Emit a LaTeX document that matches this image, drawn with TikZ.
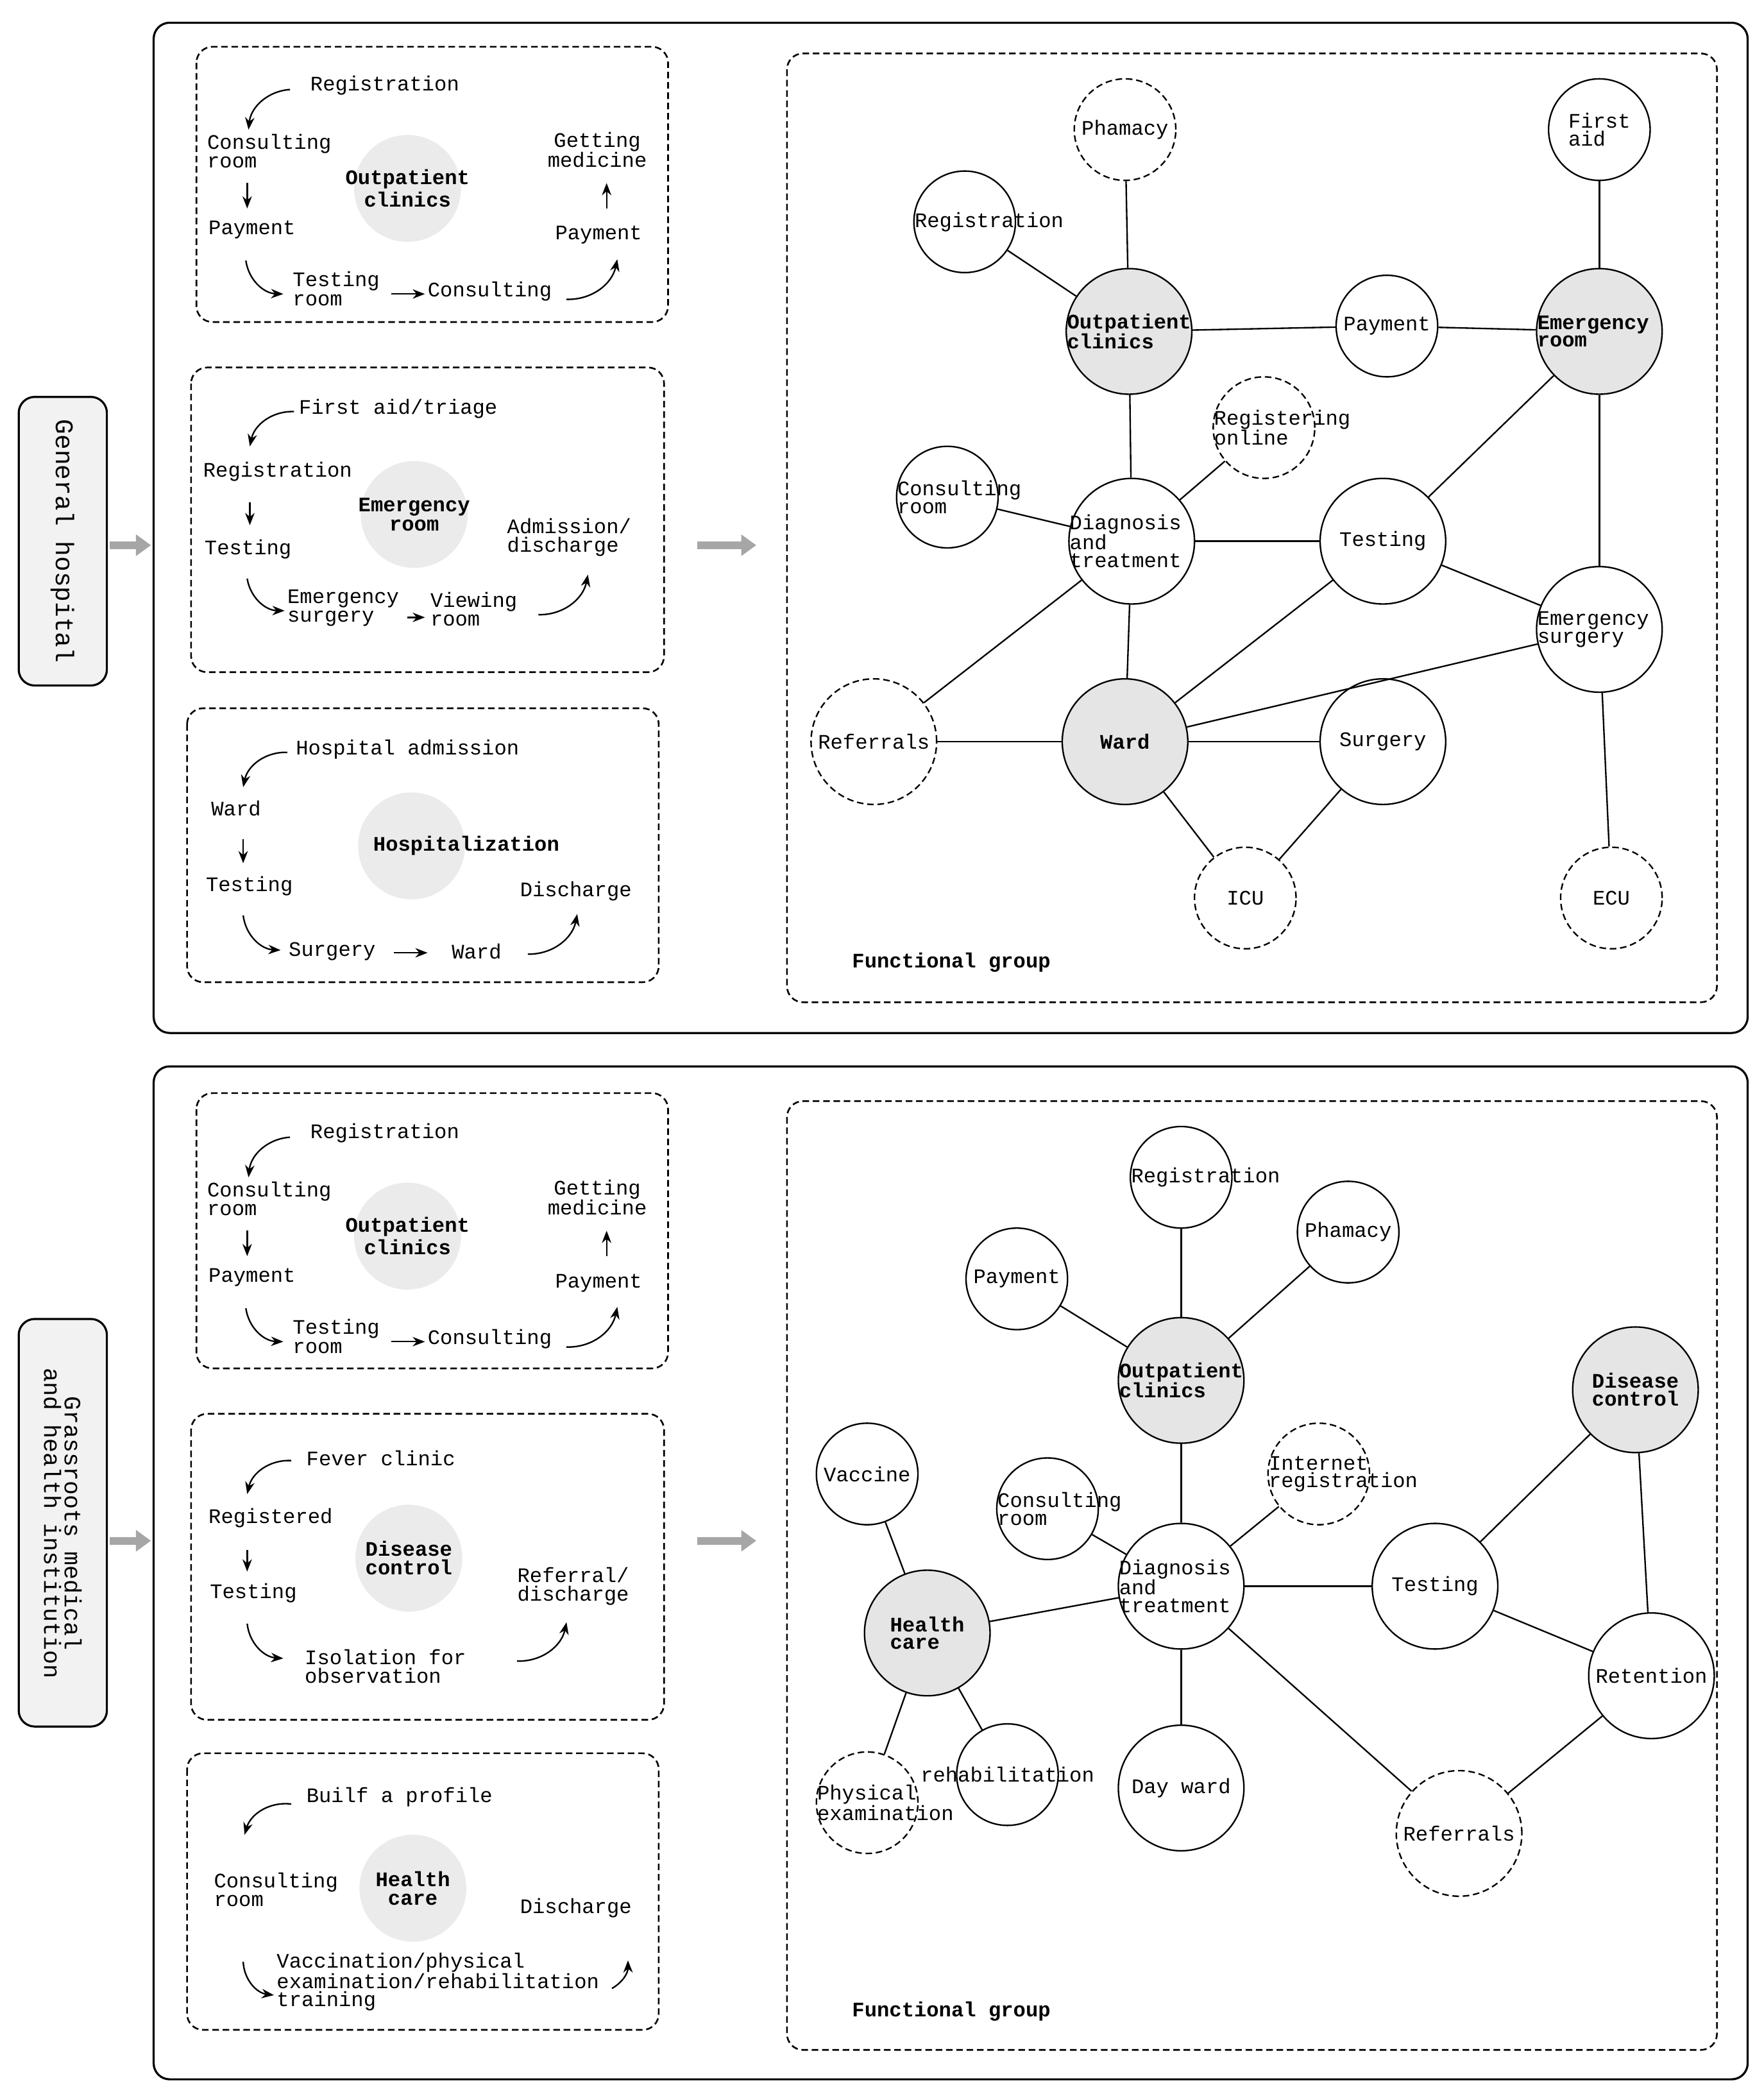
\documentclass[tikz,border=0pt]{standalone}
\usepackage{fontspec}
\setmainfont{Liberation Mono}
\usetikzlibrary{arrows.meta}
\begin{document}
\begin{tikzpicture}[x=0.05cm,y=-0.05cm,
 every node/.style={font=\fontsize{22}{24}\selectfont,align=left,inner sep=0pt},
 box/.style={draw,line width=2.2pt,rounded corners=0.6cm},
 dsh/.style={dash pattern=on 7pt off 4pt},
 dbox/.style={draw,dsh,line width=1.8pt,rounded corners=0.6cm},
 sc/.style={circle,draw,line width=1.6pt,minimum size=3.8cm,fill=white},
 lc/.style={circle,draw,line width=1.6pt,minimum size=4.7cm,fill=white},
 gc/.style={lc,fill=black!10},
 dc/.style={sc,dsh},
 dl/.style={lc,dsh},
 ed/.style={line width=1.6pt},
 ar/.style={-{Stealth[length=13pt,width=10pt]},line width=1.6pt},
 garr/.style={-{Triangle[length=16pt,width=22pt]},line width=8pt,draw=black!35},
 bt/.style={font=\fontsize{22}{24}\selectfont\bfseries},
 hub/.style={circle,fill=black!8,minimum size=4cm}]
\useasboundingbox (0,0) rectangle (1320,1567);
\fill[white] (0,0) rectangle (1320,1567);
% outer boxes
\draw[box] (115,17) rectangle (1308,773);
\draw[box] (115,798) rectangle (1308,1556);
\draw[box,fill=black!5] (14,297) rectangle (80,513);
\node[rotate=-90,align=center,font=\fontsize{27}{27}\selectfont] (lab1) at (47,405) {General hospital};
\draw[box,fill=black!5] (14,987) rectangle (80,1292);
\node[rotate=-90,align=center,font=\fontsize{25}{22}\selectfont] (lab2) at (47,1140) {Grassroots medical\\and health institution};
\coordinate (g1) at (82,408); \coordinate (g1e) at (113,408);
\coordinate (g2) at (522,408); \coordinate (g2e) at (566,408);
\coordinate (g3) at (82,1153); \coordinate (g3e) at (113,1153);
\coordinate (g4) at (522,1153); \coordinate (g4e) at (566,1153);
\draw[garr] (g1)--(g1e); \draw[garr] (g2)--(g2e);
\draw[garr] (g3)--(g3e); \draw[garr] (g4)--(g4e);
% dashed boxes
\draw[dbox] (147,35) rectangle (500,241);
\draw[dbox] (143,275) rectangle (497,503);
\draw[dbox] (140,530) rectangle (493,735);
\draw[dbox] (147,818) rectangle (500,1024);
\draw[dbox] (143,1058) rectangle (497,1287);
\draw[dbox] (140,1312) rectangle (493,1519);
\draw[dbox] (589,40) rectangle (1285,750);
\draw[dbox] (589,824) rectangle (1285,1534);
% outpatient process (top and bottom)
\foreach \dy/\p in {0/a,784/b}{
\begin{scope}[yshift=-\dy*0.05cm]
\node[hub] (h\p) at (305,141) {};
\node[bt,align=center] at (h\p) {Outpatient\\clinics};
\node (r\p) at (288,64) {Registration};
\draw[ar] (217,67) to[bend right=40] (186,97);
\node[anchor=west,font=\fontsize{22}{20}\selectfont] at (155,113) {Consulting\\room};
\draw[ar] (185,137)--(185,156);
\node[anchor=west] at (156,172) {Payment};
\draw[ar] (184,195) to[bend right=40] (212,220);
\node[anchor=west,font=\fontsize{22}{20}\selectfont] at (219,216) {Testing\\room};
\draw[ar] (293,220)--(318,220);
\node[anchor=west] at (320,218) {Consulting};
\draw[ar] (424,224) to[bend right=40] (462,194);
\node at (448,176) {Payment};
\draw[ar] (454,156)--(454,137);
\node[align=center,font=\fontsize{22}{20}\selectfont] at (447,112) {Getting\\medicine};
\end{scope}}
% emergency process
\node[hub] (he) at (310,385) {};
\node[bt,align=center,font=\fontsize{22}{20}\selectfont\bfseries] at (he) {Emergency\\room};
\node at (298,306) {First aid/triage};
\draw[ar] (220,308) to[bend right=40] (187,334);
\node[anchor=west] at (152,353) {Registration};
\draw[ar] (187,376)--(187,393);
\node[anchor=west] at (153,411) {Testing};
\draw[ar] (185,433) to[bend right=40] (213,457);
\node[anchor=west,font=\fontsize{22}{20}\selectfont] at (215,455) {Emergency\\surgery};
\draw[ar] (305,462)--(318,462);
\node[anchor=west,font=\fontsize{22}{20}\selectfont] at (322,456) {Viewing\\room};
\draw[ar] (403,460) to[bend right=40] (440,430);
\node[font=\fontsize{22}{20}\selectfont] at (426,402) {Admission/\\discharge};
% hospitalization
\node[hub] (hh) at (308,633) {};
\node[bt] at (349,633) {Hospitalization};
\node at (305,561) {Hospital admission};
\draw[ar] (215,563) to[bend right=40] (182,589);
\node[anchor=west] at (158,605) {Ward};
\draw[ar] (182,628)--(182,646);
\node[anchor=west] at (154,663) {Testing};
\draw[ar] (182,685) to[bend right=40] (210,711);
\node[anchor=west] at (216,712) {Surgery};
\draw[ar] (295,713)--(320,713);
\node[anchor=west] at (338,712) {Ward};
\draw[ar] (395,714) to[bend right=40] (432,684);
\node at (431,667) {Discharge};
% disease control process
\node[hub] (hd) at (306,1166) {};
\node[bt,align=center,font=\fontsize{22}{20}\selectfont\bfseries] at (hd) {Disease\\control};
\node at (285,1091) {Fever clinic};
\draw[ar] (218,1093) to[bend right=40] (185,1118);
\node[anchor=west] at (156,1136) {Registered};
\draw[ar] (185,1160)--(185,1176);
\node[anchor=west] at (157,1192) {Testing};
\draw[ar] (185,1215) to[bend right=40] (212,1241);
\node[anchor=west,font=\fontsize{22}{20}\selectfont] at (228,1247) {Isolation for\\observation};
\draw[ar] (387,1243) to[bend right=40] (424,1214);
\node[align=center,font=\fontsize{22}{20}\selectfont] at (429,1187) {Referral/\\discharge};
% health care process
\node[hub] (hc) at (309,1413) {};
\node[bt,align=center,font=\fontsize{22}{20}\selectfont\bfseries] at (hc) {Health\\care};
\node at (299,1345) {Builf a profile};
\draw[ar] (218,1350) to[bend right=40] (183,1373);
\node[anchor=west,font=\fontsize{22}{20}\selectfont] at (160,1414) {Consulting\\room};
\node at (431,1428) {Discharge};
\draw[ar] (182,1468) to[bend right=40] (205,1493);
\node[anchor=west,font=\fontsize{22}{19}\selectfont] at (207,1483) {Vaccination/physical\\examination/rehabilitation\\training};
\draw[ar] (458,1488) to[bend right=30] (470,1467);
% ===== top graph =====
\foreach \n/\x/\y/\s in {ph/842/97/dc,fa/1197/97/sc,re/722/166/sc,op/845/248/gc,pa/1038/244/sc,er/1197/248/gc,ro/946/320/dc,cr/709/372/sc,dt/847/405/lc,te/1035/405/lc,es/1197/471/lc,rf/654/555/dl,wa/842/555/gc,su/1035/555/lc,ic/932/672/dc,ec/1206/672/dc}
  \node[\s] (\n) at (\x,\y) {};
\foreach \a/\b in {ph/op,re/op,op/pa,pa/er,fa/er,op/dt,cr/dt,ro/dt,dt/te,te/er,te/es,er/es,dt/wa,dt/rf,rf/wa,wa/su,wa/te,wa/es,wa/ic,su/ic,es/ec}
  \draw[ed] (\a)--(\b);
% centred labels
\foreach \n/\t/\f in {ph/Phamacy/,fa/{First\\aid}/,pa/Payment/,te/Testing/,rf/Referrals/,wa/Ward/\bfseries,su/Surgery/,ic/ICU/,ec/ECU/}
  \node[font=\fontsize{22}{19}\selectfont\f] at (\n) {\t};
% labels starting at the left rim
\foreach \n/\t/\f in {re/Registration/,op/{Outpatient\\clinics}/\bfseries,er/{Emergency\\room}/\bfseries,ro/{Registering\\online}/,cr/{Consulting\\room}/,dt/{Diagnosis\\and\\treatment}/,es/{Emergency\\surgery}/}
  \node[anchor=west,font=\fontsize{22}{19}\selectfont\f] at ([xshift=1.5pt]\n.west) {\t};
\node[bt] (fg1) at (712,720) {Functional group};
% ===== bottom graph =====
\foreach \n/\x/\y/\s in {Re/884/881/sc,Ph/1009/922/sc,Pa/761/957/sc,Op/884/1033/gc,Dc/1224/1040/gc,Va/649/1103/sc,Cr/784/1129/sc,Ir/987/1103/dc,Dt/884/1187/lc,Te/1074/1187/lc,Hc/694/1222/gc,Rt/1236/1254/lc,Rh/754/1328/sc,Pe/649/1349/dc,Dw/884/1338/lc,Rf/1092/1372/dl}
  \node[\s] (\n) at (\x,\y) {};
\foreach \a/\b in {Re/Op,Ph/Op,Pa/Op,Op/Dt,Cr/Dt,Ir/Dt,Dt/Te,Dt/Hc,Dt/Dw,Dt/Rf,Te/Dc,Te/Rt,Dc/Rt,Rt/Rf,Va/Hc,Hc/Rh,Hc/Pe}
  \draw[ed] (\a)--(\b);
\foreach \n/\t/\f in {Ph/Phamacy/,Pa/Payment/,Dc/{Disease\\control}/\bfseries,Va/Vaccine/,Te/Testing/,Hc/{Health\\care}/\bfseries,Rt/Retention/,Rh/rehabilitation/,Dw/{Day ward}/,Rf/Referrals/}
  \node[font=\fontsize{22}{19}\selectfont\f] at (\n) {\t};
\foreach \n/\t/\f in {Re/Registration/,Op/{Outpatient\\clinics}/\bfseries,Cr/{Consulting\\room}/,Ir/{Internet\\registration}/,Dt/{Diagnosis\\and\\treatment}/,Pe/{Physical\\examination}/}
  \node[anchor=west,font=\fontsize{22}{19}\selectfont\f] at ([xshift=1.5pt]\n.west) {\t};
\node[bt] (fg2) at (712,1505) {Functional group};
\end{tikzpicture}
\end{document}
